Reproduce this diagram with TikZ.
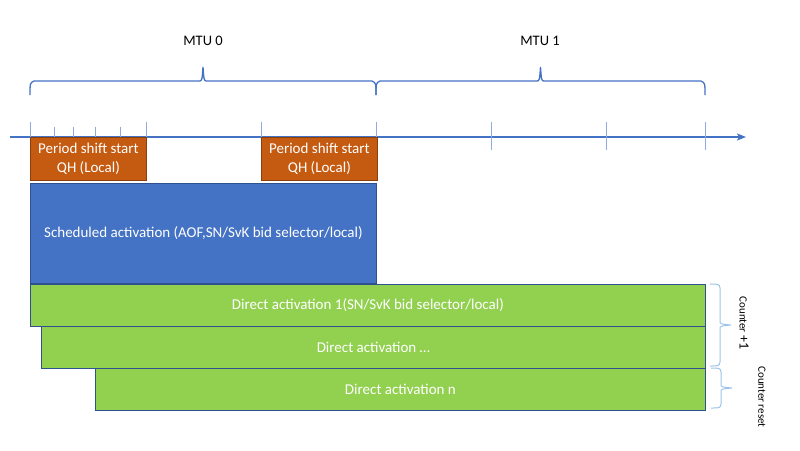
\documentclass[tikz,border=0pt]{standalone}
\usepackage{fontspec}
\setmainfont{Carlito}
\usetikzlibrary{arrows.meta}
\definecolor{axisblue}{HTML}{4472C4}
\definecolor{tickblue}{HTML}{8FAADC}
\definecolor{bracelight}{HTML}{9DC3E6}
\definecolor{qhorange}{HTML}{C55A11}
\definecolor{schedblue}{HTML}{4472C4}
\definecolor{directgreen}{HTML}{92D050}
\definecolor{edgeblue}{HTML}{2F528F}
% horizontal brace: x start, x end, y of the ends
\newcommand{\mtuhbrace}[3]{%
  \pgfmathsetmacro\bmid{(#1+#2)/2}
  \draw[mtubrace] (#1,#3) .. controls (#1,#3-12) .. (#1+4,#3-14) -- (\bmid-4,#3-14)
    .. controls (\bmid-1,#3-14) .. (\bmid,#3-28) .. controls (\bmid+1,#3-14) .. (\bmid+4,#3-14)
    -- (#2-4,#3-14) .. controls (#2,#3-12) .. (#2,#3);}
% vertical brace: y start, y end, x of the ends
\newcommand{\countvbrace}[3]{%
  \pgfmathsetmacro\bmid{(#1+#2)/2}
  \draw[countbrace] (#3,#1) .. controls (#3+9,#1) .. (#3+10,#1+4) -- (#3+10,\bmid-4)
    .. controls (#3+10,\bmid-1) .. (#3+21,\bmid) .. controls (#3+10,\bmid+1) .. (#3+10,\bmid+4)
    -- (#3+10,#2-4) .. controls (#3+9,#2) .. (#3,#2);}
\begin{document}
\begin{tikzpicture}[x=1pt,y=-1pt,
  box/.style={draw=edgeblue,line width=0.8pt,anchor=north west,inner sep=0pt,
    text=white,align=center,font=\fontsize{15}{18.5}\selectfont},
  qhbox/.style={box,fill=qhorange,draw=qhorange!70!black,minimum width=116pt,minimum height=43pt},
  directbox/.style={box,fill=directgreen,minimum height=42pt},
  mtubrace/.style={draw=axisblue,line width=1.3pt},
  countbrace/.style={draw=bracelight,line width=1pt},
  tick/.style={draw=tickblue,line width=0.8pt}]
\useasboundingbox (0,0) rectangle (800,450);
% time axis
\coordinate (axisstart) at (10,137);
\coordinate (axisend) at (746,137);
\draw[axisblue,line width=1.2pt,-{Stealth[length=9pt,width=7pt,inset=2pt]}] (axisstart) -- (axisend);
\foreach \x in {30,146,261,376,491,606,705}
  \draw[tick] (\x,122) -- (\x,150);
\foreach \x in {54,73,95,120}
  \draw[tick] (\x,127) -- (\x,137);
% MTU braces
\mtuhbrace{30}{376}{95}
\mtuhbrace{376}{705}{95}
\node[font=\fontsize{14.5}{17}\selectfont] (mtu0) at (203,41) {MTU 0};
\node[font=\fontsize{14.5}{17}\selectfont] (mtu1) at (540,41) {MTU 1};
% boxes
\node[qhbox] (qh1) at (30,137) {Period shift start\\QH (Local)};
\node[qhbox] (qh2) at (261,137) {Period shift start\\QH (Local)};
\node[box,fill=schedblue,minimum width=346pt,minimum height=100pt] (sched) at (30,183)
  {Scheduled activation (AOF,SN/SvK bid selector/local)};
\node[directbox,minimum width=675pt] (direct1) at (30,284)
  {Direct activation 1(SN/SvK bid selector/local)};
\node[directbox,minimum width=664pt] (direct2) at (41,326) {Direct activation \dots};
\node[directbox,minimum width=610pt] (direct3) at (95,368) {Direct activation n};
% counter braces
\countvbrace{284}{366}{710}
\countvbrace{368}{408}{711}
\node[rotate=-90,font=\fontsize{11}{13}\selectfont] (cplus) at (744,323)
  {Counter {\fontsize{14}{15}\selectfont +1}};
\node[rotate=-90,font=\fontsize{11}{13}\selectfont] (creset) at (762,397) {Counter reset};
\end{tikzpicture}
\end{document}
